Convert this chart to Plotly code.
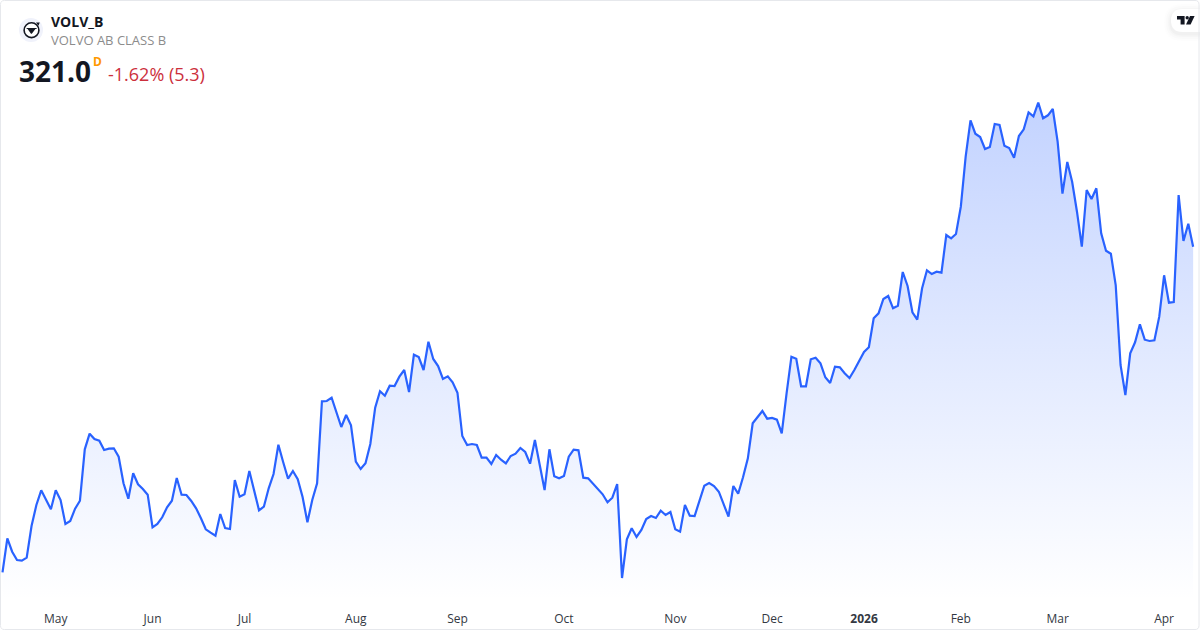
import plotly.graph_objects as go

# --- data (trading sessions, Apr 2025 - Apr 2026) ---
prices = [
    246.11, 253.93, 250.85, 248.94, 248.78, 249.47, 256.76, 261.59, 264.97, 262.74,
    260.60, 264.97, 262.74, 257.22, 257.91, 260.74, 262.58, 274.40, 277.99, 276.77,
    276.38, 274.24, 274.54, 274.63, 272.70, 266.58, 263.04, 268.88, 266.35, 265.27,
    263.96, 256.46, 257.22, 258.76, 261.06, 262.58, 267.80, 263.96, 263.89, 262.51,
    260.83, 258.53, 256.00, 255.22, 254.53, 259.52, 256.30, 256.07, 267.34, 263.50,
    264.05, 269.41, 265.20, 260.37, 261.20, 265.43, 268.72, 275.46, 271.41, 267.64,
    269.41, 267.50, 263.43, 257.61, 262.74, 266.58, 285.44, 285.51, 286.27, 282.91,
    279.53, 282.29, 279.92, 271.55, 269.87, 271.18, 275.62, 283.97, 287.74, 286.73,
    289.03, 288.96, 291.10, 292.64, 287.58, 296.16, 295.63, 292.64, 299.15, 295.17,
    293.56, 290.57, 291.19, 289.81, 287.42, 277.46, 275.39, 275.62, 275.39, 272.47,
    272.47, 271.02, 273.09, 272.01, 271.18, 272.86, 273.39, 274.70, 273.78, 271.09,
    276.54, 270.79, 265.04, 274.40, 268.19, 267.73, 268.26, 272.70, 274.31, 274.17,
    267.87, 267.73, 266.58, 265.27, 264.05, 262.21, 263.27, 266.42, 244.80, 253.70,
    256.23, 254.23, 255.84, 258.37, 259.06, 258.60, 260.28, 259.29, 259.98, 256.00,
    255.45, 261.59, 259.13, 259.06, 262.35, 266.03, 266.65, 265.96, 264.65, 261.98,
    258.90, 265.96, 264.19, 267.96, 272.33, 280.38, 281.76, 283.21, 281.44, 281.60,
    281.21, 278.08, 287.28, 295.70, 295.24, 288.89, 288.89, 295.10, 295.47, 294.18,
    290.96, 289.65, 293.40, 293.26, 291.88, 290.80, 292.64, 294.78, 296.78, 297.86,
    304.53, 305.68, 308.97, 309.66, 306.83, 307.43, 315.18, 311.96, 305.91, 304.21,
    311.43, 315.57, 314.72, 315.25, 315.02, 323.69, 322.93, 323.92, 330.20, 341.70,
    350.07, 346.99, 346.23, 343.47, 343.93, 349.22, 348.99, 344.23, 343.70, 341.47,
    346.46, 348.00, 351.91, 350.99, 354.12, 350.53, 351.22, 352.67, 345.15, 333.19,
    340.48, 335.95, 329.05, 321.00, 334.04, 331.97, 334.43, 324.08, 320.08, 319.39,
    312.19, 293.79, 286.89, 296.48, 299.01, 303.15, 299.61, 299.31, 299.47, 304.90,
    314.42, 308.12, 308.28, 332.89, 322.31, 326.29, 321.00,
]
sessions = list(range(len(prices)))
tick_sessions = [11, 31, 50, 73, 94, 116, 139, 159, 178, 198, 218, 240]
tick_labels = ["May", "Jun", "Jul", "Aug", "Sep", "Oct", "Nov", "Dec",
               "<b>2026</b>", "Feb", "Mar", "Apr"]

symbol = "VOLV_B"
company = "VOLVO AB CLASS B"
last_price = "321.0"
interval = "D"
change = "-1.62% (5.3)"

# --- layout ---
W, H, PLOT_H = 1200, 630, 600
LINE = "#2962FF"
FONT = "Open Sans"
SPACING = 4.84
X0 = 2.5
Y_TOP, Y_BOTTOM = 377.74, 239.74


def px(x):
    return x / W


def py(y):
    return 1 - y / PLOT_H


def path(points, close=True):
    s = "M" + " L".join(f"{px(x):.5f},{py(y):.5f}" for x, y in points)
    return s + (" Z" if close else "")


def rrect(x0, y0, x1, y1, r):
    return (f"M{px(x0+r):.5f},{py(y0):.5f} L{px(x1-r):.5f},{py(y0):.5f} "
            f"Q{px(x1):.5f},{py(y0):.5f} {px(x1):.5f},{py(y0+r):.5f} "
            f"L{px(x1):.5f},{py(y1-r):.5f} "
            f"Q{px(x1):.5f},{py(y1):.5f} {px(x1-r):.5f},{py(y1):.5f} "
            f"L{px(x0+r):.5f},{py(y1):.5f} "
            f"Q{px(x0):.5f},{py(y1):.5f} {px(x0):.5f},{py(y1-r):.5f} "
            f"L{px(x0):.5f},{py(y0+r):.5f} "
            f"Q{px(x0):.5f},{py(y0):.5f} {px(x0+r):.5f},{py(y0):.5f} Z")


def circle(cx, cy, r, **kw):
    return dict(type="circle", xref="paper", yref="paper",
                x0=px(cx - r), x1=px(cx + r), y0=py(cy + r), y1=py(cy - r), **kw)


fig = go.Figure(go.Scatter(
    x=sessions, y=prices, mode="lines",
    line=dict(color=LINE, width=2.2),
    fill="tozeroy",
    fillgradient=dict(
        type="vertical", start=Y_BOTTOM, stop=354.12,
        colorscale=[[0, "rgba(41,98,255,0)"], [1, "rgba(41,98,255,0.28)"]],
    ),
    hoverinfo="skip",
))

shapes = []
# soft shadow under the logo tab
for grow, alpha in [(7, 0.006), (5, 0.01), (3, 0.015), (1.5, 0.02)]:
    shapes.append(dict(type="path", xref="paper", yref="paper", layer="above",
                       path=rrect(1171 - grow, 9 - grow + 2, 1212, 32 + grow + 2, 11 + grow),
                       fillcolor=f"rgba(0,0,0,{alpha})", line=dict(width=0)))
shapes.append(dict(type="path", xref="paper", yref="paper", layer="above",
                   path=rrect(1171, 9, 1212, 32, 11.5), fillcolor="#ffffff", line=dict(width=0)))
# TradingView mark
shapes.append(dict(type="path", xref="paper", yref="paper", layer="above",
                   path=path([(1177, 16), (1184.6, 16), (1184.6, 24.6), (1180.6, 24.6),
                              (1180.6, 19.4), (1177, 19.4)]),
                   fillcolor="#131722", line=dict(width=0)))
shapes.append(circle(1187.2, 17.7, 1.7, fillcolor="#131722", line=dict(width=0), layer="above"))
shapes.append(dict(type="path", xref="paper", yref="paper", layer="above",
                   path=path([(1190, 16), (1194.6, 16), (1190.6, 24.6), (1186, 24.6)]),
                   fillcolor="#131722", line=dict(width=0)))
# card border
shapes.append(dict(type="path", xref="paper", yref="paper", layer="above",
                   path=rrect(0.5, 0.5, 1199, 629.5, 4), fillcolor="rgba(0,0,0,0)",
                   line=dict(color="#e6e8ec", width=1)))
# symbol logo
shapes.append(circle(31, 30, 12, fillcolor="#f0f2fb", line=dict(width=0), layer="above"))
shapes.append(circle(31.5, 30.2, 7.4, fillcolor="#ffffff",
                     line=dict(color="#131722", width=1.6), layer="above"))
shapes.append(dict(type="path", xref="paper", yref="paper", layer="above",
                   path=path([(26.6, 27.9), (36.6, 27.9), (36.6, 29), (35.4, 29), (31.8, 33.8),
                              (31, 33.8), (27.6, 29), (26.6, 29)]),
                   fillcolor="#131722", line=dict(width=0)))
shapes.append(dict(type="path", xref="paper", yref="paper", layer="above",
                   path=path([(36, 22.4), (39.8, 22.6), (38.4, 25.8)]),
                   fillcolor="#131722", line=dict(width=0)))


def label(x, y, text, size, color, bold=False):
    return dict(xref="paper", yref="paper", x=px(x), y=py(y), xanchor="left", yanchor="middle",
                text=f"<b>{text}</b>" if bold else text, showarrow=False,
                font=dict(family=FONT, size=size, color=color),
                xshift=0, yshift=0, borderpad=0, borderwidth=0)


annotations = [
    label(51, 21, symbol, 14, "#131722", True),
    label(51, 40, company, 13, "#8c8c8c"),
    label(19, 71, last_price, 28, "#131722", True),
    label(93, 61, interval, 12, "#ff9800", True),
    label(108, 74, change, 18, "#cc2f3c"),
]

fig.update_layout(
    width=W, height=H,
    margin=dict(l=0, r=0, t=0, b=H - PLOT_H, pad=0),
    paper_bgcolor="#ffffff", plot_bgcolor="#ffffff",
    showlegend=False,
    shapes=shapes, annotations=annotations,
    xaxis=dict(
        range=[-X0 / SPACING, (W - X0) / SPACING],
        tickmode="array", tickvals=tick_sessions, ticktext=tick_labels,
        tickfont=dict(family=FONT, size=12, color="#333842"),
        ticklabelstandoff=10,
        showgrid=False, zeroline=False, showline=False, ticks="", ticklen=0,
    ),
    yaxis=dict(range=[Y_BOTTOM, Y_TOP], visible=False, showgrid=False, zeroline=False),
)

fig.write_html("out.html", config=dict(displayModeBar=False),
               post_script="document.body.style.margin='0';document.body.style.overflow='hidden';")
